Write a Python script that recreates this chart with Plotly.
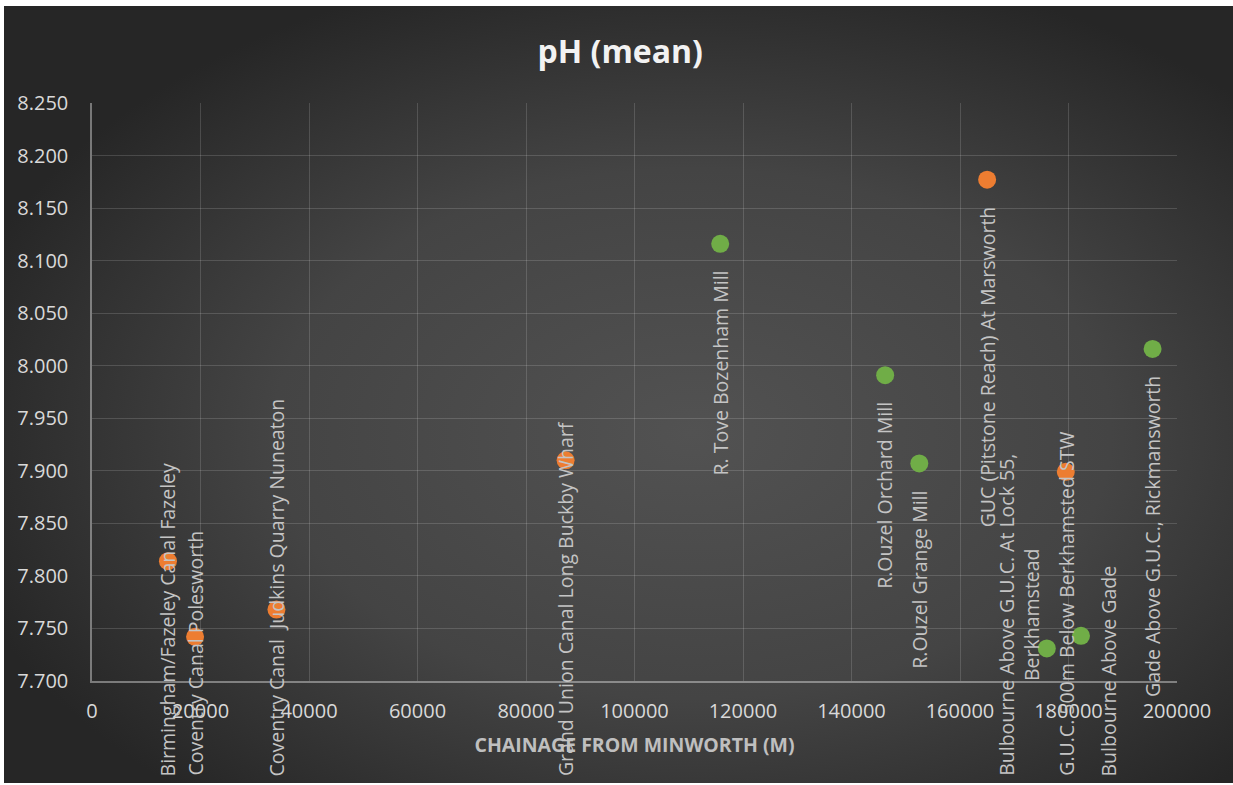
import base64
import plotly.graph_objects as go

# Mean pH by sampling station, plotted against chainage from Minworth (m)
canal_names = [
    "Birmingham/Fazeley Canal Fazeley",
    "Coventry Canal Polesworth",
    "Coventry Canal  Judkins Quarry Nuneaton",
    "Grand Union Canal Long Buckby Wharf",
    "GUC (Pitstone Reach) At Marsworth",
    "G.U.C. 500m Below Berkhamsted STW",
]
canal_chainage = [14000, 19000, 34000, 87300, 165000, 179500]
canal_ph = [7.814, 7.742, 7.768, 7.910, 8.177, 7.899]

river_names = [
    "R. Tove Bozenham Mill",
    "R.Ouzel Orchard Mill",
    "R.Ouzel Grange Mill",
    "Bulbourne Above G.U.C. At Lock 55,<br>Berkhamstead",
    "Bulbourne Above Gade",
    "Gade Above G.U.C., Rickmansworth",
]
river_chainage = [115800, 146200, 152500, 176000, 182300, 195500]
river_ph = [8.116, 7.991, 7.907, 7.731, 7.743, 8.016]

ORANGE = "#ED7D31"
GREEN = "#70AD47"

W, H = 1233, 785
M_L, M_R, M_T, M_B = 92, 56, 103, 104
Y_MIN, Y_MAX = 7.70, 8.25
X_MIN, X_MAX = 0, 200000
PLOT_H = H - M_T - M_B
LABEL_SIZE = 19.5
LABEL_FLOOR = 778           # lowest pixel row a rotated label may reach
LABEL_GAP = 25              # distance from marker centre to label start

# nudges for labels that would otherwise collide
label_xshift = {
    "Bulbourne Above G.U.C. At Lock 55,<br>Berkhamstead": -28,
    "Bulbourne Above Gade": 28,
}

# dark radial backdrop for the chart area
svg = (
    '<svg xmlns="http://www.w3.org/2000/svg" width="1000" height="1000" '
    'viewBox="0 0 1000 1000" preserveAspectRatio="none">'
    '<defs><radialGradient id="g" cx="0.56" cy="0.55" r="0.62">'
    '<stop offset="0" stop-color="#525252"/>'
    '<stop offset="0.55" stop-color="#444444"/>'
    '<stop offset="1" stop-color="#262626"/>'
    '</radialGradient></defs>'
    '<rect width="1000" height="1000" fill="url(#g)"/></svg>'
)
bg_src = "data:image/svg+xml;base64," + base64.b64encode(svg.encode()).decode()

fig = go.Figure()
fig.add_trace(go.Scatter(
    x=canal_chainage, y=canal_ph, mode="markers", name="Canal",
    marker=dict(color=ORANGE, size=18, line=dict(width=0)),
))
fig.add_trace(go.Scatter(
    x=river_chainage, y=river_ph, mode="markers", name="River",
    marker=dict(color=GREEN, size=18, line=dict(width=0)),
))


def value_to_px(v):
    return M_T + (Y_MAX - v) / (Y_MAX - Y_MIN) * PLOT_H


annotations = []
for names, xs, ys in ((canal_names, canal_chainage, canal_ph),
                      (river_names, river_chainage, river_ph)):
    for name, xv, yv in zip(names, xs, ys):
        first_line = name.split("<br>")[0]
        est_len = len(first_line) * 0.53 * LABEL_SIZE
        top_px = value_to_px(yv) + LABEL_GAP
        common = dict(
            x=xv, xref="x", yref="y", text=name, textangle=-90,
            showarrow=False, xanchor="center", align="center",
            font=dict(family="Open Sans", size=LABEL_SIZE, color="#c4c4c4"),
            xshift=label_xshift.get(name, 0),
        )
        if top_px + est_len > LABEL_FLOOR:
            annotations.append(dict(
                y=Y_MIN, yanchor="bottom",
                yshift=-(LABEL_FLOOR - (H - M_B)), **common))
        else:
            annotations.append(dict(
                y=yv, yanchor="top", yshift=-LABEL_GAP, **common))

px_w = W - M_L - M_R
fig.update_layout(
    width=W, height=H,
    margin=dict(l=M_L, r=M_R, t=M_T, b=M_B, pad=0),
    paper_bgcolor="#ffffff",
    plot_bgcolor="rgba(0,0,0,0)",
    showlegend=False,
    font=dict(family="Open Sans", color="#d9d9d9"),
    title=dict(
        text="<b>pH (mean)</b>", x=0.503, xref="container", xanchor="center",
        y=1 - 52 / H, yref="container", yanchor="middle",
        font=dict(family="Open Sans", size=32, color="#f2f2f2"),
    ),
    images=[dict(
        source=bg_src, xref="paper", yref="paper",
        x=(4 - M_L) / px_w, y=(H - M_B - 6) / PLOT_H,
        sizex=(W - 4) / px_w, sizey=(783 - 6) / PLOT_H,
        xanchor="left", yanchor="top", sizing="stretch", layer="below",
    )],
    annotations=annotations,
    xaxis=dict(
        range=[X_MIN, X_MAX], dtick=20000, tick0=0, tickformat="d",
        showgrid=True, gridcolor="rgba(255,255,255,0.15)", gridwidth=1,
        zeroline=False, showline=True, linecolor="rgba(255,255,255,0.38)",
        linewidth=1.5, ticks="", ticklabelstandoff=11,
        tickfont=dict(size=20, color="#d9d9d9"),
        title=dict(text="<b>CHAINAGE FROM MINWORTH (M)</b>", standoff=16,
                   font=dict(size=19.5, color="#bfbfbf")),
    ),
    yaxis=dict(
        range=[Y_MIN, Y_MAX], dtick=0.05, tick0=7.7, tickformat=".3f",
        showgrid=True, gridcolor="rgba(255,255,255,0.15)", gridwidth=1,
        zeroline=False, showline=True, linecolor="rgba(255,255,255,0.38)",
        linewidth=1.5, ticks="", ticklabelstandoff=18,
        tickfont=dict(size=20, color="#d9d9d9"),
    ),
)

fig.write_html("out.html")
